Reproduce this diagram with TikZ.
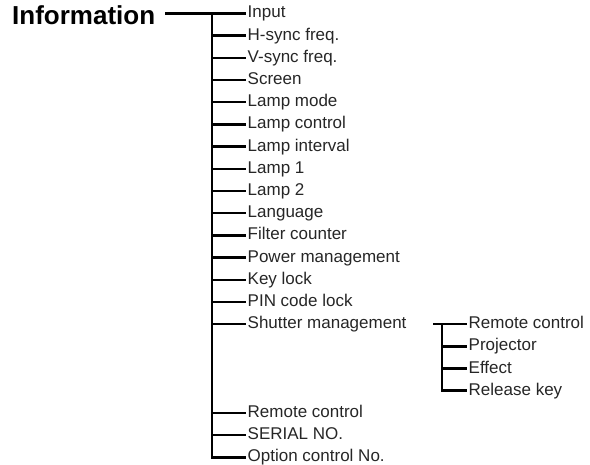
\documentclass[tikz,border=0pt]{standalone}
\usepackage{fontspec}
\setmainfont{Liberation Sans}
\usepackage{tikz}
\usetikzlibrary{positioning}

\begin{document}
\begin{tikzpicture}[
    x=1pt, y=-1pt,
    item/.style={anchor=west, inner xsep=1.5pt, inner ysep=0pt,
                 text height=12.5pt, text depth=3.5pt, text=black!85,
                 font=\fontsize{17}{20}\selectfont},
    head/.style={anchor=base west, inner sep=0pt,
                 font=\fontsize{26}{30}\selectfont\bfseries},
    stem/.style={line width=2.8pt, line join=miter},
    branch/.style={line width=2.4pt}
]
\useasboundingbox (0,0) rectangle (590,465);

\node[head] (info) at (12,25) {Information};

\coordinate (trunk) at (212,0);
\coordinate (subtrunk) at (442,0);

\node[item] (input)   at (246,13.5)  {Input};
\node[item] (hsync)   at (246,35.7)  {H-sync freq.};
\node[item] (vsync)   at (246,57.9)  {V-sync freq.};
\node[item] (screen)  at (246,80.1)  {Screen};
\node[item] (lmode)   at (246,102.3) {Lamp mode};
\node[item] (lctrl)   at (246,124.5) {Lamp control};
\node[item] (lint)    at (246,146.7) {Lamp interval};
\node[item] (lone)    at (246,168.9) {Lamp 1};
\node[item] (ltwo)    at (246,191.1) {Lamp 2};
\node[item] (lang)    at (246,213.3) {Language};
\node[item] (filter)  at (246,235.5) {Filter counter};
\node[item] (power)   at (246,257.7) {Power management};
\node[item] (keylock) at (246,279.9) {Key lock};
\node[item] (pinlock) at (246,302.1) {PIN code lock};
\node[item] (shutter) at (246,324.3) {Shutter management};
\node[item] (remote)  at (246,413.1) {Remote control};
\node[item] (serial)  at (246,435.3) {SERIAL NO.};
\node[item] (option)  at (246,457.5) {Option control No.};

% shutter management submenu
\coordinate (subroot) at (433,324.3);
\node[item] (sremote) at (467,324.3) {Remote control};
\node[item] (sproj)   at (467,346.5) {Projector};
\node[item] (seffect) at (467,368.7) {Effect};
\node[item] (srelease) at (467,390.9) {Release key};

\draw[branch, shorten <=10pt] (info.east |- input.west) -- (input.west);
\draw[stem] (trunk |- input.west) -- (trunk |- option.west) -- (option.west);
\draw[branch] (trunk |- hsync.west) -- (hsync.west);
\draw[branch] (trunk |- vsync.west) -- (vsync.west);
\draw[branch] (trunk |- screen.west) -- (screen.west);
\draw[branch] (trunk |- lmode.west) -- (lmode.west);
\draw[branch] (trunk |- lctrl.west) -- (lctrl.west);
\draw[branch] (trunk |- lint.west) -- (lint.west);
\draw[branch] (trunk |- lone.west) -- (lone.west);
\draw[branch] (trunk |- ltwo.west) -- (ltwo.west);
\draw[branch] (trunk |- lang.west) -- (lang.west);
\draw[branch] (trunk |- filter.west) -- (filter.west);
\draw[branch] (trunk |- power.west) -- (power.west);
\draw[branch] (trunk |- keylock.west) -- (keylock.west);
\draw[branch] (trunk |- pinlock.west) -- (pinlock.west);
\draw[branch] (trunk |- shutter.west) -- (shutter.west);
\draw[branch] (trunk |- remote.west) -- (remote.west);
\draw[branch] (trunk |- serial.west) -- (serial.west);

\draw[branch] (subroot) -- (sremote.west);
\draw[stem] (subtrunk |- sremote.west) -- (subtrunk |- srelease.west) -- (srelease.west);
\draw[branch] (subtrunk |- sproj.west) -- (sproj.west);
\draw[branch] (subtrunk |- seffect.west) -- (seffect.west);

\end{tikzpicture}
\end{document}
